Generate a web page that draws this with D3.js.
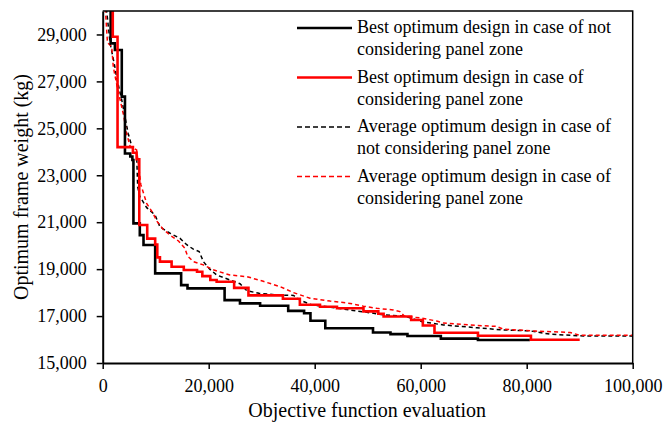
<!DOCTYPE html>
<html>
  <head>
    <script src="https://cdnjs.cloudflare.com/ajax/libs/d3/7.8.5/d3.min.js"></script>
    <style>
      body { margin: 0; background: #fff; }
      svg text { font-family: "Liberation Serif", "Times New Roman", serif; fill: #000; }
    </style>
  </head>
  <body>
    <script type="text/javascript">

    // tick values of the two axes
    var xTicks = [0, 20000, 40000, 60000, 80000, 100000];
    var yTicks = [15000, 17000, 19000, 21000, 23000, 25000, 27000, 29000];

    // [objective function evaluation, frame weight (kg)]
    var bestNoPanel = [
        [1400, 31000], [1500, 28620], [2300, 28340], [3600, 26350], [4200, 23930],
        [5200, 23800], [5600, 23650], [5800, 20950], [7000, 20450], [7700, 20030],
        [9900, 18820], [14800, 18320], [16000, 18180], [23000, 17680], [25900, 17540],
        [29700, 17440], [35000, 17220], [38000, 17120], [39200, 16800], [42000, 16480],
        [51000, 16300], [54300, 16230], [57500, 16150], [63800, 16040], [70800, 15980],
        [80600, 15980]
    ];

    var bestPanel = [
        [1800, 31000], [1900, 28900], [2800, 24200], [5700, 23960], [6400, 23680],
        [6900, 20880], [8400, 20300], [9900, 20050], [10300, 19500], [10800, 19320],
        [13000, 19100], [15300, 18960], [17800, 18890], [18800, 18700], [20300, 18540],
        [21500, 18460], [24800, 18200], [27500, 17880], [34000, 17740], [37200, 17480],
        [41000, 17400], [44200, 17330], [49200, 17200], [52000, 17100], [53000, 16980],
        [58200, 16830], [60400, 16600], [62600, 16290], [70800, 16160], [80800, 15990],
        [90000, 15990]
    ];

    var avgNoPanel = [
        [700, 30100], [1400, 28620], [2300, 27620], [2600, 27200], [3600, 26200],
        [4200, 25500], [4800, 24790], [5500, 24220], [6400, 23900], [6600, 22500],
        [7000, 22100], [8300, 21620], [9900, 21300], [10800, 20800], [12700, 20530],
        [14600, 20310], [15800, 20050], [17100, 19850], [18200, 19750], [19000, 19320],
        [20200, 19000], [21500, 18750], [24000, 18540], [25900, 18380], [27200, 18080],
        [29500, 17970], [33000, 17900], [36000, 17880], [37200, 17680], [39500, 17470],
        [43000, 17380], [46000, 17280], [51100, 17120], [53000, 17050], [57000, 17000],
        [58300, 16900], [60300, 16760], [64300, 16620], [70600, 16500], [75600, 16410],
        [80600, 16370], [84400, 16230], [90700, 16150], [100000, 16150]
    ];

    var avgPanel = [
        [500, 30100], [900, 28650], [1700, 28480], [2000, 27620], [2600, 26920],
        [3300, 26200], [4000, 25500], [4500, 24790], [5200, 24220], [6400, 24080],
        [7200, 22600], [8300, 21800], [9500, 21380], [10200, 21050], [11400, 20700],
        [12700, 20450], [14300, 20200], [15500, 19890], [16000, 19560], [17100, 19320],
        [19000, 19180], [21000, 18960], [24000, 18750], [27200, 18680], [30300, 18480],
        [33500, 18250], [36000, 18000], [39100, 17760], [42900, 17640], [46700, 17540],
        [49200, 17420], [51700, 17330], [54800, 17260], [56100, 17190], [56900, 17000],
        [59900, 16920], [63000, 16790], [64300, 16700], [70600, 16600], [74300, 16560],
        [75600, 16440], [81700, 16360], [88200, 16300], [90000, 16180], [100000, 16180]
    ];

    var legendLabels = [
        ["Best optimum design in case of not", "considering panel zone"],
        ["Best optimum design in case of", "considering panel zone"],
        ["Average optimum design in case of", "not considering panel zone"],
        ["Average optimum design in case of", "considering panel zone"]
    ];

    var series = [
        {data: bestNoPanel, color: "#000", width: 2.6, dash: null, step: true},
        {data: bestPanel, color: "#f00", width: 2.6, dash: null, step: true},
        {data: avgNoPanel, color: "#000", width: 1.5, dash: "4,3", step: false},
        {data: avgPanel, color: "#f00", width: 1.5, dash: "4,3", step: false}
    ];

    var width = 664, height = 429;
    var plot = {left: 102.7, top: 11, right: 632.7, bottom: 363};

    var svg = d3.select("body").append("svg")
        .attr("width", width)
        .attr("height", height);

    var x = d3.scaleLinear().domain([0, 100000]).range([plot.left, plot.right]);
    var y = d3.scaleLinear().domain([15000, 30000]).range([plot.bottom, plot.top]);

    svg.append("clipPath").attr("id", "plotClip")
      .append("rect")
        .attr("x", plot.left)
        .attr("y", plot.top)
        .attr("width", plot.right - plot.left)
        .attr("height", plot.bottom - plot.top);

    // curves, dashed averages first so the solid lines sit over them
    var drawOrder = [2, 3, 0, 1];
    drawOrder.forEach(function (i) {
        var s = series[i];
        var line = d3.line()
            .x(function (d) { return x(d[0]); })
            .y(function (d) { return y(d[1]); })
            .curve(s.step ? d3.curveStepAfter : d3.curveLinear);
        svg.append("path")
            .datum(s.data)
            .attr("clip-path", "url(#plotClip)")
            .attr("fill", "none")
            .attr("stroke", s.color)
            .attr("stroke-width", s.width)
            .attr("stroke-dasharray", s.dash)
            .attr("d", line);
    });

    // frame on top and right
    svg.append("path")
        .attr("fill", "none")
        .attr("stroke", "#000")
        .attr("stroke-width", 1.5)
        .attr("d", "M" + plot.left + "," + plot.top + "H" + plot.right + "V" + plot.bottom);

    var xAxis = svg.append("g")
        .attr("transform", "translate(0," + plot.bottom + ")")
        .call(d3.axisBottom(x).tickValues(xTicks).tickSize(6).tickPadding(10)
            .tickSizeOuter(0).tickFormat(d3.format(",")));

    var yAxis = svg.append("g")
        .attr("transform", "translate(" + plot.left + ",0)")
        .call(d3.axisLeft(y).tickValues(yTicks).tickSize(6).tickPadding(10)
            .tickSizeOuter(0).tickFormat(d3.format(",")));

    [xAxis, yAxis].forEach(function (a) {
        a.select(".domain").attr("stroke", "#000").attr("stroke-width", 2);
        a.selectAll(".tick line").attr("stroke", "#000").attr("stroke-width", 1.5);
        a.selectAll(".tick text")
            .style("font-family", "Liberation Serif")
            .style("font-size", "18px")
            .attr("fill", "#000");
    });

    // axis titles
    svg.append("text")
        .attr("x", (plot.left + plot.right) / 2 - 0.5)
        .attr("y", 417)
        .attr("text-anchor", "middle")
        .style("font-size", "20px")
        .text("Objective function evaluation");

    svg.append("text")
        .attr("transform", "translate(28,187) rotate(-90)")
        .attr("text-anchor", "middle")
        .style("font-size", "20px")
        .text("Optimum frame weight (kg)");

    // legend
    var legend = svg.append("g").attr("transform", "translate(297,33)");
    legendLabels.forEach(function (lbl, i) {
        var s = series[i];
        var row = legend.append("g").attr("transform", "translate(0," + (i * 49.5) + ")");
        row.append("line")
            .attr("x1", 0).attr("x2", 55)
            .attr("y1", -5).attr("y2", -5)
            .attr("stroke", s.color)
            .attr("stroke-width", s.dash ? 1.5 : 2.6)
            .attr("stroke-dasharray", s.dash ? "5,3" : null);
        row.selectAll("text")
            .data(lbl)
            .enter()
            .append("text")
              .attr("x", 60)
              .attr("y", function (d, j) { return j * 22; })
              .style("font-size", "18px")
              .text(function (d) { return d; });
    });

    </script>
  </body>
</html>
